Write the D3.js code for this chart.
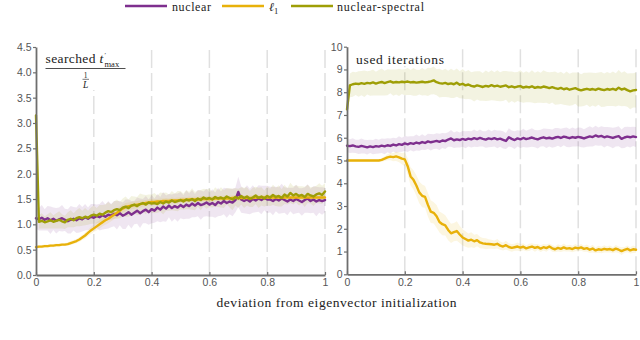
<!DOCTYPE html>
<html><head><meta charset="utf-8">
<script src="https://cdn.jsdelivr.net/npm/d3@7"></script>
<style>body{margin:0;background:#fff}</style>
</head><body>
<svg id="c" width="640" height="340"></svg>
<script>
// ---------- data ----------
const xGrid = d3.range(101).map(i => i / 100);
const seriesNames = ["nuclear", "ℓ1", "nuclear-spectral"];
const xTickValues = [0, 0.2, 0.4, 0.6, 0.8, 1];
const xTickLabels = ["0", "0.2", "0.4", "0.6", "0.8", "1"];
const leftYTicks = [0, 0.5, 1, 1.5, 2, 2.5, 3, 3.5, 4, 4.5];
const rightYTicks = [0, 1, 2, 3, 4, 5, 6, 7, 8, 9, 10];

// left panel: searched t'max / (1/L)
const leftNuclear = [1.12,
 1.10,1.13,1.09,1.12,1.08,1.11,1.07,1.10,1.12,1.09,
 1.06,1.09,1.11,1.08,1.12,1.10,1.14,1.11,1.15,1.13,
 1.16,1.14,1.18,1.15,1.19,1.17,1.21,1.18,1.22,1.17,
 1.20,1.24,1.19,1.23,1.27,1.22,1.26,1.29,1.24,1.30,
 1.27,1.33,1.29,1.35,1.31,1.37,1.32,1.36,1.33,1.38,
 1.34,1.39,1.36,1.41,1.37,1.42,1.38,1.40,1.43,1.39,
 1.42,1.38,1.44,1.41,1.46,1.42,1.45,1.43,1.48,1.64,
 1.49,1.46,1.49,1.45,1.50,1.47,1.51,1.48,1.52,1.49,
 1.49,1.46,1.50,1.47,1.51,1.48,1.45,1.49,1.46,1.50,
 1.47,1.44,1.48,1.51,1.46,1.49,1.45,1.48,1.46,1.48];
const leftL1 = [0.55,
 0.56,0.56,0.57,0.57,0.58,0.58,0.59,0.59,0.60,0.60,
 0.61,0.63,0.65,0.67,0.70,0.74,0.78,0.83,0.88,0.92,
 0.96,1.00,1.04,1.08,1.11,1.15,1.19,1.23,1.27,1.31,
 1.34,1.36,1.37,1.38,1.39,1.40,1.41,1.42,1.43,1.44,
 1.44,1.45,1.45,1.46,1.46,1.46,1.47,1.47,1.47,1.48,
 1.48,1.48,1.49,1.49,1.49,1.49,1.50,1.50,1.50,1.50,
 1.50,1.51,1.51,1.51,1.51,1.51,1.51,1.52,1.52,1.52,
 1.52,1.52,1.52,1.52,1.52,1.53,1.53,1.53,1.53,1.53,
 1.53,1.53,1.53,1.53,1.53,1.53,1.53,1.53,1.53,1.53,
 1.53,1.53,1.53,1.53,1.53,1.53,1.53,1.53,1.53,1.53];
const leftSpectral = [3.15,
 1.05,1.07,1.04,1.06,1.08,1.05,1.07,1.09,1.06,1.04,
 1.09,1.11,1.08,1.12,1.14,1.12,1.15,1.13,1.17,1.19,
 1.17,1.21,1.19,1.23,1.26,1.24,1.28,1.30,1.28,1.33,
 1.35,1.32,1.37,1.39,1.36,1.40,1.42,1.39,1.43,1.41,
 1.42,1.40,1.44,1.41,1.45,1.43,1.47,1.44,1.46,1.48,
 1.45,1.49,1.47,1.50,1.46,1.51,1.48,1.53,1.50,1.52,
 1.49,1.54,1.51,1.53,1.50,1.55,1.52,1.49,1.54,1.51,
 1.56,1.52,1.55,1.50,1.53,1.57,1.52,1.55,1.51,1.56,
 1.53,1.58,1.54,1.56,1.52,1.59,1.55,1.62,1.57,1.60,
 1.56,1.58,1.54,1.60,1.57,1.55,1.59,1.61,1.58,1.65];
const leftNuclearSpread = [0.20,
 0.22,0.25,0.21,0.24,0.27,0.22,0.25,0.23,0.26,0.22,
 0.24,0.27,0.23,0.25,0.28,0.24,0.26,0.22,0.25,0.27,
 0.23,0.26,0.28,0.24,0.27,0.23,0.25,0.28,0.24,0.26,
 0.29,0.25,0.27,0.23,0.26,0.29,0.24,0.27,0.25,0.28,
 0.24,0.27,0.25,0.29,0.26,0.23,0.27,0.25,0.28,0.26,
 0.24,0.28,0.25,0.27,0.23,0.26,0.29,0.25,0.27,0.24,
 0.27,0.25,0.28,0.24,0.26,0.29,0.25,0.27,0.24,0.30,
 0.26,0.24,0.28,0.25,0.27,0.23,0.26,0.28,0.24,0.27,
 0.25,0.28,0.24,0.26,0.29,0.25,0.27,0.23,0.26,0.28,
 0.24,0.27,0.25,0.28,0.24,0.26,0.29,0.25,0.27,0.24];
const leftL1Spread = [0.03,
 0.03,0.03,0.03,0.03,0.03,0.03,0.03,0.03,0.03,0.03,
 0.03,0.04,0.04,0.04,0.05,0.05,0.06,0.06,0.07,0.07,
 0.08,0.08,0.08,0.09,0.09,0.09,0.09,0.08,0.08,0.08,
 0.08,0.07,0.07,0.07,0.07,0.07,0.06,0.06,0.06,0.06,
 0.06,0.05,0.06,0.05,0.06,0.05,0.06,0.05,0.06,0.05,
 0.06,0.05,0.06,0.05,0.06,0.05,0.06,0.05,0.06,0.05,
 0.06,0.05,0.06,0.05,0.06,0.05,0.06,0.05,0.06,0.05,
 0.06,0.05,0.06,0.05,0.06,0.05,0.06,0.05,0.06,0.05,
 0.06,0.05,0.06,0.05,0.06,0.05,0.06,0.05,0.06,0.05,
 0.06,0.05,0.06,0.05,0.06,0.05,0.06,0.05,0.06,0.05];
const leftSpectralSpread = [0.10,
 0.13,0.15,0.12,0.14,0.16,0.13,0.15,0.17,0.14,0.13,
 0.15,0.17,0.14,0.16,0.18,0.15,0.17,0.14,0.16,0.18,
 0.15,0.17,0.19,0.16,0.18,0.15,0.17,0.19,0.16,0.18,
 0.20,0.17,0.19,0.16,0.18,0.21,0.17,0.19,0.16,0.18,
 0.20,0.17,0.19,0.21,0.18,0.16,0.19,0.17,0.20,0.18,
 0.16,0.19,0.17,0.21,0.18,0.16,0.20,0.17,0.19,0.18,
 0.16,0.19,0.17,0.20,0.18,0.16,0.19,0.21,0.17,0.19,
 0.17,0.20,0.18,0.16,0.19,0.17,0.20,0.18,0.16,0.19,
 0.17,0.20,0.18,0.21,0.17,0.19,0.16,0.20,0.18,0.17,
 0.19,0.17,0.20,0.18,0.16,0.19,0.17,0.20,0.18,0.16];

// right panel: used iterations
const rightNuclear = [5.65,
 5.63,5.66,5.62,5.60,5.64,5.61,5.58,5.62,5.59,5.63,
 5.61,5.65,5.62,5.67,5.64,5.70,5.66,5.72,5.69,5.75,
 5.71,5.76,5.73,5.79,5.75,5.81,5.77,5.84,5.80,5.83,
 5.86,5.82,5.88,5.85,5.92,5.97,5.89,5.93,5.90,5.95,
 5.91,5.96,5.93,5.98,5.94,5.99,5.95,5.92,5.97,5.94,
 5.98,5.93,5.96,5.91,5.86,6.02,5.95,5.90,5.97,5.93,
 5.99,5.94,5.97,6.01,5.96,5.93,5.98,6.02,5.97,6.00,
 5.96,6.01,6.04,5.99,6.05,6.02,5.98,6.03,6.00,6.04,
 6.01,5.97,6.02,6.06,6.03,6.10,6.05,6.08,6.02,6.06,
 6.03,5.99,6.04,6.07,5.95,6.01,6.05,6.02,6.06,6.03];
const rightL1 = [5.00,
 5.00,5.00,5.00,5.00,5.00,5.00,5.00,5.00,5.00,5.00,
 5.00,5.03,5.08,5.14,5.17,5.15,5.18,5.14,5.08,5.05,
 4.75,4.30,4.15,3.90,3.60,3.45,3.40,3.05,2.75,2.70,
 2.55,2.30,2.20,2.15,1.95,1.80,1.85,1.90,1.75,1.62,
 1.55,1.48,1.52,1.45,1.50,1.40,1.36,1.34,1.33,1.32,
 1.30,1.34,1.26,1.22,1.28,1.20,1.16,1.19,1.22,1.17,
 1.21,1.14,1.18,1.22,1.16,1.20,1.13,1.19,1.15,1.22,
 1.14,1.10,1.16,1.12,1.18,1.13,1.15,1.11,1.17,1.14,
 1.18,1.12,1.15,1.08,1.13,1.05,1.10,1.07,1.12,1.09,
 1.11,1.06,1.13,1.08,1.02,1.07,1.12,1.05,1.10,1.08];
const rightSpectral = [7.25,
 8.30,8.35,8.38,8.36,8.40,8.37,8.41,8.39,8.43,8.38,
 8.42,8.45,8.40,8.44,8.48,8.42,8.45,8.43,8.46,8.44,
 8.47,8.43,8.45,8.42,8.44,8.46,8.43,8.45,8.48,8.52,
 8.44,8.40,8.38,8.41,8.36,8.39,8.35,8.42,8.33,8.37,
 8.30,8.34,8.28,8.25,8.30,8.27,8.23,8.28,8.25,8.31,
 8.26,8.29,8.24,8.27,8.30,8.22,8.26,8.21,8.25,8.27,
 8.20,8.24,8.21,8.26,8.19,8.23,8.20,8.25,8.22,8.18,
 8.22,8.18,8.15,8.19,8.13,8.17,8.11,8.15,8.18,8.12,
 8.08,8.12,8.15,8.11,8.14,8.10,8.16,8.12,8.09,8.14,
 8.11,8.15,8.10,8.20,8.12,8.16,8.09,8.04,8.08,8.10];
const rightNuclearSpread = [0.28,
 0.30,0.32,0.29,0.31,0.33,0.30,0.32,0.29,0.31,0.33,
 0.30,0.32,0.34,0.31,0.33,0.30,0.32,0.35,0.31,0.33,
 0.34,0.31,0.33,0.35,0.32,0.34,0.31,0.33,0.36,0.32,
 0.34,0.36,0.33,0.35,0.32,0.37,0.34,0.36,0.33,0.35,
 0.37,0.34,0.36,0.38,0.35,0.37,0.34,0.36,0.39,0.35,
 0.37,0.39,0.36,0.38,0.35,0.40,0.37,0.39,0.36,0.38,
 0.40,0.37,0.39,0.41,0.38,0.40,0.37,0.39,0.42,0.38,
 0.40,0.42,0.39,0.41,0.38,0.43,0.40,0.42,0.39,0.41,
 0.43,0.40,0.42,0.44,0.41,0.43,0.40,0.42,0.45,0.41,
 0.43,0.45,0.42,0.44,0.41,0.46,0.43,0.45,0.42,0.44];
const rightL1Spread = [0.05,
 0.05,0.05,0.05,0.05,0.05,0.05,0.05,0.05,0.05,0.05,
 0.06,0.08,0.10,0.13,0.16,0.18,0.20,0.22,0.25,0.30,
 0.35,0.40,0.42,0.45,0.48,0.50,0.48,0.52,0.50,0.47,
 0.50,0.46,0.48,0.44,0.45,0.42,0.40,0.43,0.38,0.36,
 0.34,0.31,0.33,0.29,0.27,0.25,0.23,0.24,0.21,0.20,
 0.19,0.21,0.18,0.17,0.19,0.16,0.17,0.15,0.18,0.16,
 0.15,0.13,0.16,0.14,0.17,0.13,0.15,0.14,0.16,0.13,
 0.15,0.13,0.16,0.14,0.17,0.13,0.15,0.14,0.16,0.13,
 0.15,0.13,0.16,0.14,0.17,0.13,0.15,0.14,0.16,0.13,
 0.15,0.13,0.16,0.14,0.17,0.13,0.15,0.14,0.16,0.13];
const rightSpectralSpread = [0.40,
 0.52,0.55,0.50,0.56,0.53,0.58,0.51,0.55,0.57,0.52,
 0.56,0.59,0.54,0.57,0.52,0.58,0.55,0.60,0.54,0.57,
 0.59,0.55,0.61,0.57,0.54,0.60,0.56,0.62,0.58,0.61,
 0.57,0.63,0.59,0.62,0.58,0.64,0.60,0.62,0.59,0.65,
 0.61,0.64,0.60,0.66,0.62,0.65,0.61,0.67,0.63,0.66,
 0.62,0.68,0.64,0.66,0.63,0.69,0.65,0.67,0.64,0.70,
 0.66,0.68,0.65,0.71,0.67,0.69,0.66,0.72,0.68,0.70,
 0.67,0.73,0.69,0.71,0.68,0.74,0.70,0.72,0.69,0.75,
 0.71,0.73,0.70,0.76,0.72,0.74,0.71,0.77,0.73,0.75,
 0.72,0.76,0.73,0.78,0.74,0.76,0.73,0.79,0.75,0.77];

// ---------- styles ----------
const seriesColors = ["#7e2f8e", "#e8b10a", "#9e9e06"];
const bandOpacity = 0.12;
const serif = "'Liberation Serif', 'Times New Roman', serif";
const sans = "'Liberation Sans', Arial, sans-serif";
const axisColor = "#6e6e6e";

const svg = d3.select("#c");

const panels = [
  { x0: 36, x1: 325, yTop: 47, yBot: 275, ymax: 4.5, yTicks: leftYTicks, yFmt: d3.format(".1f"),
    titleBox: [43, 48, 86, 42],
    means: [leftNuclear, leftL1, leftSpectral],
    spreads: [leftNuclearSpread, leftL1Spread, leftSpectralSpread] },
  { x0: 347, x1: 636, yTop: 46.7, yBot: 274.3, ymax: 10, yTicks: rightYTicks, yFmt: d3.format("d"),
    titleBox: [353, 48, 96, 18],
    means: [rightNuclear, rightL1, rightSpectral],
    spreads: [rightNuclearSpread, rightL1Spread, rightSpectralSpread] }
];

panels.forEach(p => {
  const x = d3.scaleLinear().domain([0, 1]).range([p.x0, p.x1]);
  const y = d3.scaleLinear().domain([0, p.ymax]).range([p.yBot, p.yTop]);
  const g = svg.append("g");

  // gridlines
  g.selectAll("line.grid").data(xTickValues.filter(v => v > 0)).join("line")
    .attr("x1", d => x(d)).attr("x2", d => x(d))
    .attr("y1", p.yBot).attr("y2", p.yTop)
    .attr("stroke", "#e0e0e0").attr("stroke-width", 1.5)
    .attr("stroke-dasharray", "18,5");

  // white box behind title
  g.append("rect").attr("x", p.titleBox[0]).attr("y", p.titleBox[1])
    .attr("width", p.titleBox[2]).attr("height", p.titleBox[3]).attr("fill", "#fff");

  // bands
  p.means.forEach((m, k) => {
    const sd = p.spreads[k];
    const area = d3.area()
      .x((d, i) => x(xGrid[i]))
      .y0((d, i) => y(Math.max(0, d - sd[i])))
      .y1((d, i) => y(d + sd[i]));
    g.append("path").datum(m).attr("d", area)
      .attr("fill", seriesColors[k]).attr("fill-opacity", bandOpacity).attr("stroke", "none");
  });

  // lines
  p.means.forEach((m, k) => {
    const line = d3.line().x((d, i) => x(xGrid[i])).y(d => y(d));
    g.append("path").datum(m).attr("d", line)
      .attr("fill", "none").attr("stroke", seriesColors[k])
      .attr("stroke-width", 2.4).attr("stroke-linejoin", "round").attr("stroke-linecap", "round");
  });

  // axes
  const ya = g.append("g").attr("transform", `translate(${p.x0},0)`)
    .call(d3.axisLeft(y).tickValues(p.yTicks).tickFormat(p.yFmt).tickSizeInner(3).tickSizeOuter(0).tickPadding(1.5));
  const xa = g.append("g").attr("transform", `translate(0,${p.yBot})`)
    .call(d3.axisBottom(x).tickValues(xTickValues).tickFormat((d, i) => xTickLabels[i]).tickSizeInner(-3).tickSizeOuter(0).tickPadding(4));
  [ya, xa].forEach(a => {
    a.select(".domain").attr("stroke", axisColor).attr("stroke-width", 1.8);
    a.selectAll(".tick line").attr("stroke", axisColor).attr("stroke-width", 1.2);
    a.selectAll(".tick text").attr("fill", "#555").attr("font-family", sans).attr("font-size", 10.5);
  });
});

// panel titles (left: stacked fraction)
svg.append("text").attr("x", 45.5).attr("y", 63).attr("font-family", serif).attr("font-size", 13.5)
  .attr("textLength", 50).attr("lengthAdjust", "spacing").attr("fill", "#222").text("searched");
svg.append("text").attr("x", 99.5).attr("y", 63).attr("font-family", serif).attr("font-style", "italic").attr("font-size", 13.5).attr("fill", "#222").text("t");
svg.append("text").attr("x", 104.5).attr("y", 57).attr("font-family", serif).attr("font-size", 7).attr("fill", "#222").text("′");
svg.append("text").attr("x", 104.5).attr("y", 67).attr("font-family", serif).attr("font-size", 8.5).attr("fill", "#222").text("max");
svg.append("line").attr("x1", 45.5).attr("x2", 125.5).attr("y1", 68.5).attr("y2", 68.5).attr("stroke", "#222").attr("stroke-width", 0.8);
svg.append("text").attr("x", 85.7).attr("y", 77.5).attr("text-anchor", "middle").attr("font-family", serif).attr("font-size", 7.5).attr("fill", "#222").text("1");
svg.append("line").attr("x1", 82.5).attr("x2", 89).attr("y1", 79.3).attr("y2", 79.3).attr("stroke", "#222").attr("stroke-width", 0.6);
svg.append("text").attr("x", 85.7).attr("y", 87.5).attr("text-anchor", "middle").attr("font-family", serif).attr("font-style", "italic").attr("font-size", 9.5).attr("fill", "#222").text("L");

svg.append("text").attr("x", 356).attr("y", 64).attr("font-family", serif).attr("font-size", 13.5)
  .attr("textLength", 88).attr("lengthAdjust", "spacing").attr("fill", "#222").text("used iterations");

// x-axis label
svg.append("text").attr("x", 336.5).attr("y", 306.5).attr("text-anchor", "middle")
  .attr("font-family", serif).attr("font-size", 13.5).attr("fill", "#222")
  .attr("textLength", 240).attr("lengthAdjust", "spacing")
  .text("deviation from eigenvector initialization");

// legend
const legendItems = [
  { line: [125, 167], text: 172, w: 39 },
  { line: [222, 264], text: 269, w: 0 },
  { line: [291, 333], text: 337, w: 87 }
];
legendItems.forEach((it, k) => {
  svg.append("line").attr("x1", it.line[0]).attr("x2", it.line[1]).attr("y1", 6).attr("y2", 6)
    .attr("stroke", seriesColors[k]).attr("stroke-width", 2.6);
  const t = svg.append("text").attr("x", it.text).attr("y", 11).attr("font-family", serif)
    .attr("font-size", 12).attr("fill", "#222");
  if (seriesNames[k] === "ℓ1") {
    t.append("tspan").attr("font-style", "italic").text("ℓ");
    t.append("tspan").attr("font-size", 8.5).attr("dy", 2.5).text("1");
  } else {
    t.attr("textLength", it.w).attr("lengthAdjust", "spacing").text(seriesNames[k]);
  }
});
</script>
</body></html>
